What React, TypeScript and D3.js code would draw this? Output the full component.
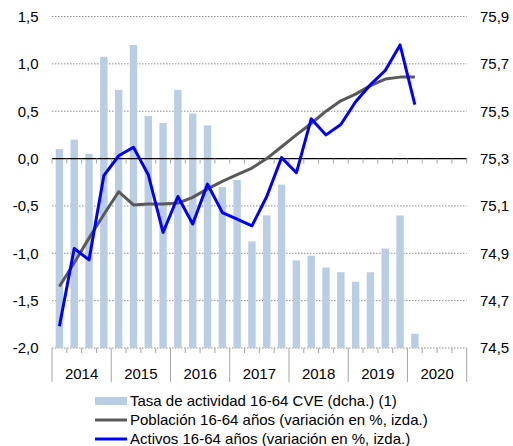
import { useEffect, useRef } from "react";
import * as d3 from "d3";

// quarters 2014T1..2020T4
const years = ["2014", "2015", "2016", "2017", "2018", "2019", "2020"];
const quarters = years.flatMap((y) => ["T1", "T2", "T3", "T4"].map((q) => `${y}${q}`));

// Tasa de actividad 16-64 CVE (right axis)
const tasa = [
  75.34, 75.38, 75.32, 75.73, 75.59, 75.78, 75.48, 75.45, 75.59, 75.49, 75.44, 75.18, 75.21,
  74.95, 75.06, 75.19, 74.87, 74.89, 74.84, 74.82, 74.78, 74.82, 74.92, 75.06, 74.56,
];

// Población 16-64 años (left axis)
const poblacion = [
  -1.35, -1.1, -0.84, -0.59, -0.35, -0.49, -0.48, -0.48, -0.47, -0.41, -0.32, -0.24, -0.17,
  -0.1, 0.0, 0.125, 0.25, 0.37, 0.5, 0.61, 0.68, 0.77, 0.84, 0.86, 0.86,
];

// Activos 16-64 años (left axis)
const activos = [
  -1.77, -0.95, -1.07, -0.18, 0.03, 0.12, -0.17, -0.78, -0.4, -0.69, -0.27, -0.57, -0.64,
  -0.71, -0.4, 0.01, -0.15, 0.42, 0.25, 0.36, 0.6, 0.78, 0.93, 1.2, 0.57,
];

const leftTicks = [-2.0, -1.5, -1.0, -0.5, 0.0, 0.5, 1.0, 1.5];
const rightTicks = [74.5, 74.7, 74.9, 75.1, 75.3, 75.5, 75.7, 75.9];

const legendItems = [
  { label: "Tasa de actividad 16-64 CVE (dcha.) (1)", type: "bar", color: "#b9cde5" },
  { label: "Población 16-64 años (variación en %, izda.)", type: "line", color: "#595959" },
  { label: "Activos 16-64 años (variación en %, izda.)", type: "line", color: "#0000ff" },
];

const fmt = (v: number) => v.toFixed(1).replace(".", ",");

const App = () => {
  const svgRef = useRef<SVGSVGElement>(null);

  useEffect(() => {
    if (!svgRef.current) return;
    const W = 513;
    const H = 446;
    const left = 52;
    const right = 466.7;
    const top = 16.5;
    const bottom = 348;

    const svg = d3.select(svgRef.current).attr("width", W).attr("height", H);
    svg.selectAll("*").remove();

    const x = d3.scaleBand().domain(quarters).range([left, right]).paddingInner(0.5).paddingOuter(0.25);
    const step = (right - left) / quarters.length;
    const cx = (i: number) => (x(quarters[i]) || 0) + x.bandwidth() / 2;
    const yL = d3.scaleLinear().domain([-2, 1.5]).range([bottom, top]);
    const yR = d3.scaleLinear().domain([74.5, 75.9]).range([bottom, top]);
    const font = "Liberation Sans, Arial, sans-serif";

    // gridlines
    svg
      .append("g")
      .selectAll("line")
      .data(leftTicks.filter((t) => t !== 0))
      .join("line")
      .attr("x1", left)
      .attr("x2", right)
      .attr("y1", (d) => yL(d))
      .attr("y2", (d) => yL(d))
      .attr("stroke", "#8c8c8c")
      .attr("stroke-width", 1)
      .attr("stroke-dasharray", "1.5,1.5");

    // bars
    svg
      .append("g")
      .selectAll("rect")
      .data(tasa)
      .join("rect")
      .attr("x", (_, i) => x(quarters[i]) || 0)
      .attr("width", x.bandwidth())
      .attr("y", (d) => yR(d))
      .attr("height", (d) => bottom - yR(d))
      .attr("fill", "#b9cde5");

    // zero axis with ticks
    const zeroY = yL(0);
    svg
      .append("line")
      .attr("x1", left)
      .attr("x2", right)
      .attr("y1", zeroY)
      .attr("y2", zeroY)
      .attr("stroke", "#000")
      .attr("stroke-width", 1.2);
    svg
      .append("g")
      .selectAll("line")
      .data(d3.range(quarters.length + 1))
      .join("line")
      .attr("x1", (d) => left + d * step)
      .attr("x2", (d) => left + d * step)
      .attr("y1", zeroY)
      .attr("y2", zeroY + 5)
      .attr("stroke", "#a6a6a6");

    // bottom ticks and year separators
    svg
      .append("g")
      .selectAll("line")
      .data(d3.range(quarters.length + 1))
      .join("line")
      .attr("x1", (d) => left + d * step)
      .attr("x2", (d) => left + d * step)
      .attr("y1", bottom)
      .attr("y2", (d) => (d % 4 === 0 ? bottom + 34 : bottom + 5))
      .attr("stroke", "#a6a6a6");

    svg
      .append("g")
      .selectAll("text")
      .data(years)
      .join("text")
      .attr("x", (_, i) => left + (i * 4 + 2) * step)
      .attr("y", 374)
      .attr("dy", "0.36em")
      .attr("text-anchor", "middle")
      .style("font-family", font)
      .style("font-size", "15px")
      .attr("fill", "#000")
      .text((d) => d);

    // lines
    const line = d3
      .line<number>()
      .x((_, i) => cx(i))
      .y((d) => yL(d));
    svg
      .append("path")
      .attr("d", line(poblacion))
      .attr("fill", "none")
      .attr("stroke", "#595959")
      .attr("stroke-width", 3)
      .attr("stroke-linejoin", "round");
    svg
      .append("path")
      .attr("d", line(activos))
      .attr("fill", "none")
      .attr("stroke", "#0000ff")
      .attr("stroke-width", 3)
      .attr("stroke-linejoin", "round");

    // left axis labels
    svg
      .append("g")
      .selectAll("text")
      .data(leftTicks)
      .join("text")
      .attr("x", 38.5)
      .attr("y", (d) => yL(d))
      .attr("dy", "0.36em")
      .attr("text-anchor", "end")
      .style("font-family", font)
      .style("font-size", "15px")
      .text((d) => fmt(d));

    // right axis labels
    svg
      .append("g")
      .selectAll("text")
      .data(rightTicks)
      .join("text")
      .attr("x", 480)
      .attr("y", (d) => yR(d))
      .attr("dy", "0.36em")
      .attr("text-anchor", "start")
      .style("font-family", font)
      .style("font-size", "15px")
      .text((d) => fmt(d));

    // legend
    const legend = svg.append("g");
    legendItems.forEach((item, i) => {
      const cy = 401 + i * 19;
      if (item.type === "bar") {
        legend
          .append("rect")
          .attr("x", 95)
          .attr("y", cy - 4)
          .attr("width", 32)
          .attr("height", 8)
          .attr("fill", item.color);
      } else {
        legend
          .append("line")
          .attr("x1", 95)
          .attr("x2", 127)
          .attr("y1", cy)
          .attr("y2", cy)
          .attr("stroke", item.color)
          .attr("stroke-width", 3);
      }
      legend
        .append("text")
        .attr("x", 130)
        .attr("y", cy)
        .attr("dy", "0.36em")
        .style("font-family", font)
        .style("font-size", "15px")
        .text(item.label);
    });
  }, []);

  return (
    <svg
      ref={svgRef}
      style={{ position: "absolute", left: 0, top: 0, background: "#fff" }}
    />
  );
};

export default App;
